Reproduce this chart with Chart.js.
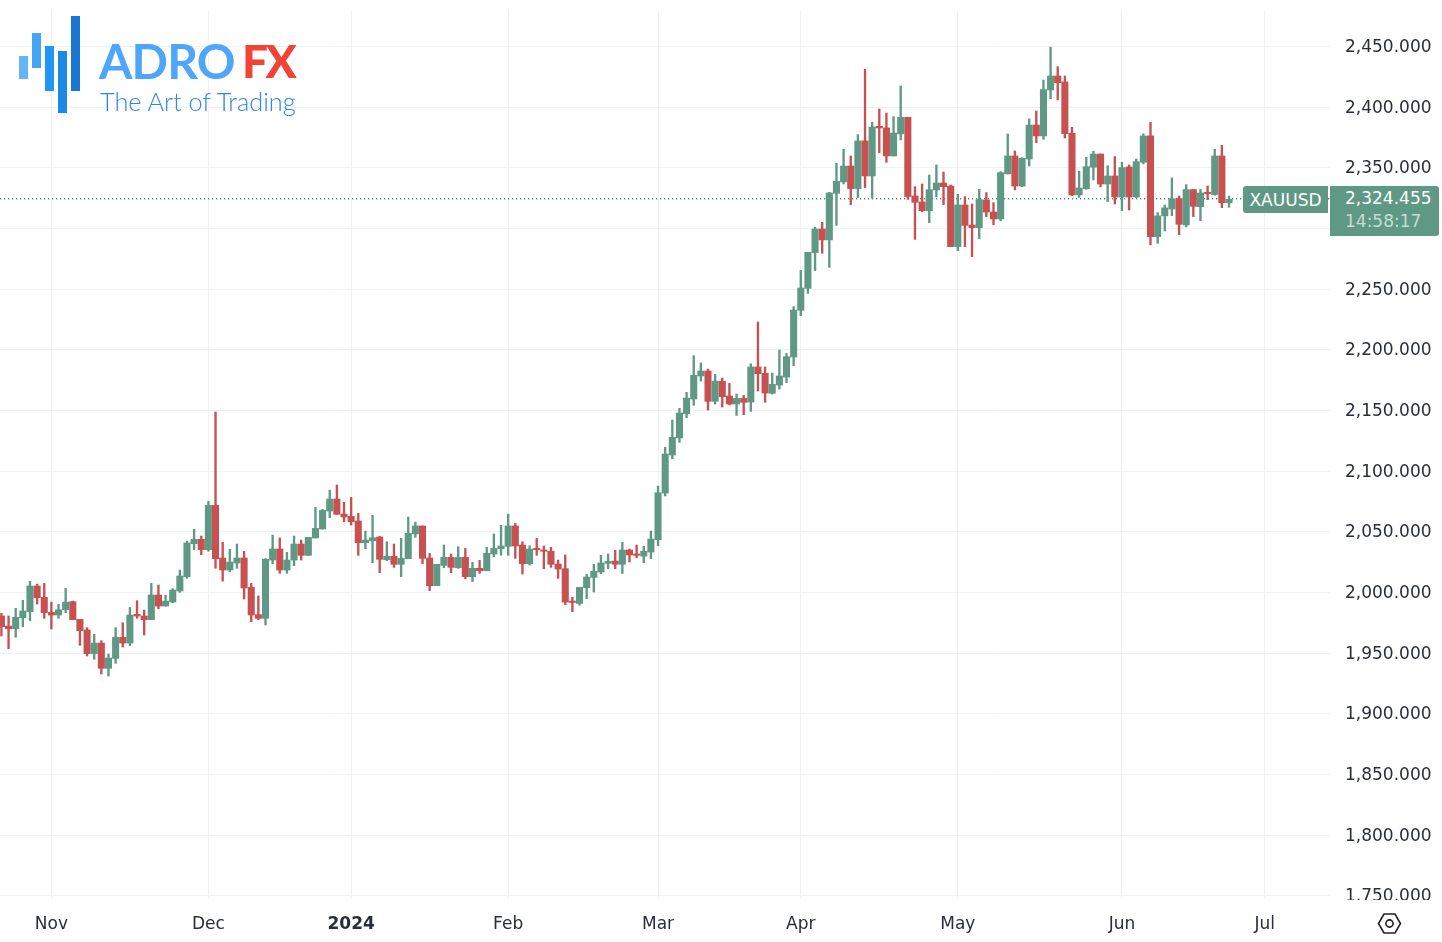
<!DOCTYPE html>
<html>
<head>
<meta charset="utf-8">
<title>XAUUSD</title>
<script src="https://cdn.jsdelivr.net/npm/chart.js@4"></script>
<style>
	html, body { margin: 0; padding: 0; background: #fff; overflow: hidden; }
	#wrap { position: relative; width: 1442px; height: 942px; font-family: "DejaVu Sans", sans-serif; }
	#wrap > * { position: absolute; }
	canvas { left: 0; top: 0; }
	.brand { font-family: Lato, sans-serif; white-space: nowrap; }
	#adro { left: 99px; top: 31px; font-size: 48px; line-height: 60px; font-weight: 700; letter-spacing: -0.8px; color: #4da6fb; }
	#fx { left: 242px; top: 31px; font-size: 46px; line-height: 60px; font-weight: 900; letter-spacing: -2.5px; color: #f44336; }
	#slogan { left: 100px; top: 86px; font-size: 25.3px; line-height: 30px; font-weight: 300; color: #2f86e4; }
	.tag { background: #5f9985; color: #fff; font-size: 17px; white-space: nowrap; }
	#tagName { left: 1243px; top: 186px; width: 85px; height: 27px; line-height: 28px; text-align: center; border-radius: 3px 0 0 3px; }
	#tagPrice { left: 1330px; top: 186px; width: 109px; height: 50px; border-radius: 0 3px 3px 0; }
	#tagPrice div { padding-left: 15px; height: 23px; line-height: 25px; }
	#tagPrice .timer { color: #c3ded4; }
</style>
</head>
<body>
<div id="wrap">
	<canvas id="goldChart" width="1442" height="942"></canvas>
	<svg style="left:0;top:0" width="90" height="120">
		<rect x="19" y="56" width="9" height="23" fill="#64b5f6"/>
		<rect x="32" y="33" width="9" height="35" fill="#42a5f5"/>
		<rect x="45" y="46" width="9" height="45" fill="#2196f3"/>
		<rect x="58" y="51" width="9" height="62" fill="#1e88e5"/>
		<rect x="71" y="16" width="9" height="75" fill="#1976d2"/>
	</svg>
	<div id="adro" class="brand">ADRO</div>
	<div id="fx" class="brand">FX</div>
	<div id="slogan" class="brand">The Art of Trading</div>
	<div id="tagName" class="tag">XAUUSD</div>
	<div id="tagPrice" class="tag"><div>2,324.455</div><div class="timer">14:58:17</div></div>
	<svg style="left:1377px;top:912px" width="25" height="23" viewBox="0 0 25 23">
		<path d="M1.5 11.5 L7 2 H18 L23.5 11.5 L18 21 H7 Z" fill="none" stroke="#222" stroke-width="1.6"/>
		<circle cx="12.5" cy="11.5" r="3.6" fill="none" stroke="#222" stroke-width="1.6"/>
	</svg>
</div>
<script>
// bar numbers count trading days from the start of November, first visible bar is -7
const firstBar = -7;
const lastPrice = 2324.455;

const opens = [
	1980.7,1972.4,1970.2,1979.3,1984.3,2005.4,1996.1,1983.7,1981.5,1985.9,
	1992.5,1977.9,1969.2,1949.7,1958.4,1937.6,1945.8,1963.1,1958.4,1982,
	1980.7,1977.7,1998,1988.9,1992.2,2001.3,2013.1,2040.3,2043.9,2035.4,
	2071.9,2028.5,2018.6,2024.4,2028.5,2004.3,1981.8,1978.8,2026.8,2035.9,
	2018.6,2026.8,2040,2030.7,2045,2052.4,2067.2,2077.1,2064.7,2062.8,
	2059,2041.1,2042.8,2045.8,2027.1,2029.9,2023.3,2027.9,2048.3,2054.9,
	2028.5,2005.7,2022.4,2029,2020.5,2029,2013.1,2020,2018,2031.8,
	2036.2,2038.1,2054.9,2039.2,2023.8,2036.4,2035.1,2034,2023.5,2019.7,
	1993,1991.1,2004,2012.5,2016.9,2024.1,2026,2023.3,2035.1,2031.8,
	2030.1,2033.4,2043.6,2082,2113.4,2127.4,2147.4,2159.5,2178.5,2182.6,
	2157.6,2174.1,2162,2155.4,2160,2157,2185.9,2180.7,2164.2,2171,
	2177.6,2194.1,2232.6,2250.7,2280.1,2299.6,2290.6,2329,2338.4,2351.5,
	2332.9,2372.2,2343.3,2384.2,2382.9,2359.8,2378,2391.6,2326.8,2321.9,
	2314.7,2331.8,2337.5,2335,2285.1,2319.4,2302.9,2300.7,2323.5,2313.6,
	2307.9,2345,2359.8,2335,2357.3,2385.3,2376.3,2414.2,2425.7,2420.8,
	2378.5,2327.7,2332.9,2350.5,2361.4,2336.7,2343.3,2326,2350.7,2326,
	2354.6,2376.3,2293.3,2310.4,2316.1,2324.6,2302.9,2332.1,2318,2329.9,
	2328,2359.8,2321.3
];
const highs = [
	1982.9,1980.7,1987,1993.6,2009.3,2007,2007.6,1992.2,1990.3,2003.5,
	1993,1977.9,1971.1,1965.6,1960.4,1949.4,1971.1,1975.2,1987.8,1993.3,
	1985.6,2007.6,2006.2,1997.7,2003.2,2018.6,2042.5,2052.1,2046.6,2075.2,
	2148.8,2041.4,2035.6,2040,2034,2007.6,1997.2,2028,2047.4,2045,
	2033.2,2046.6,2043.3,2045.5,2070.2,2068.6,2084.5,2088.7,2074.4,2078.5,
	2065.3,2050.7,2063.6,2046.3,2041.9,2040,2044.7,2062.3,2058.1,2054.9,
	2032.3,2023.3,2039.2,2031.8,2037.8,2036.4,2024.9,2026.6,2037.3,2048.3,
	2055.4,2064.7,2057,2041.9,2038.6,2044.7,2038.4,2037.3,2026.8,2031,
	1996.1,2004.3,2015,2023.3,2030.7,2031.8,2034.8,2041.4,2035.9,2039.2,
	2038.1,2050.7,2087.8,2119.7,2142.2,2151.8,2165,2195.2,2189.2,2184.2,
	2179.8,2176.8,2172.4,2163.6,2162.5,2188.6,2223,2185.9,2180.9,2199.9,
	2197.1,2235.6,2265.5,2280.4,2301,2305.1,2329.8,2353.7,2365.3,2359.8,
	2377.4,2431.2,2387.5,2398.5,2395.2,2392.2,2417.5,2391.6,2334.5,2336.7,
	2344.1,2352.4,2346.6,2335.9,2328.2,2326.3,2320.2,2332.3,2329.6,2321.3,
	2346.9,2377.9,2363.9,2358.4,2390.3,2396.9,2422.4,2449.4,2433.4,2425.7,
	2383.4,2347.2,2358.7,2363.7,2361.4,2351.8,2359.3,2354.6,2352.4,2357.3,
	2378,2387.5,2313.1,2319.4,2341.7,2326.8,2336.2,2332.1,2332.3,2335.1,
	2365.3,2368.6,2326.8
];
const lows = [
	1964.2,1953.8,1963.1,1971.9,1976.8,1990.6,1978.8,1970,1978.8,1983.4,
	1977.7,1956.5,1947.7,1945,1932.9,1931.2,1941.7,1955.1,1956.2,1978.8,
	1965,1977.7,1986.7,1988.9,1991.7,2000.2,2011.7,2035.4,2031.2,2034,
	2020,2009.5,2017.2,2020,1994.7,1976,1977.7,1973.3,2023.8,2015.9,
	2015.9,2022.2,2026.8,2030.7,2045,2052.4,2061.7,2064.5,2058.4,2055.7,
	2030.7,2036.2,2024.6,2016.4,2026.3,2020.8,2013.1,2027.9,2045.5,2023.8,
	2001.6,2005.7,2020.5,2016.4,2020,2011.4,2009,2015.8,2018,2029.6,
	2030.7,2030.7,2028.2,2015.3,2022.7,2030.7,2019.7,2020.8,2011.7,1990,
	1984.3,1989.7,1995,2000.5,2015.6,2019.7,2019.7,2015.8,2025.2,2028.8,
	2024.6,2027.9,2038.6,2079.6,2110.3,2123.8,2144.1,2154.3,2174.3,2150.4,
	2155.4,2152.9,2154.6,2146,2146.6,2149.3,2166.1,2156.8,2163.6,2167.7,
	2173,2187,2228.2,2246.6,2265.3,2279.6,2268,2302.6,2336.7,2319.7,
	2325.4,2333.7,2324.9,2362.5,2354.6,2359.8,2373,2324.1,2291.1,2313.9,
	2304.8,2326,2319.7,2285.1,2281.8,2285.1,2276.8,2291.7,2309.8,2303.2,
	2306.5,2345,2331.8,2334.5,2351.5,2370.8,2373.5,2407,2406,2374.6,
	2327.1,2325.7,2332.3,2340,2334.3,2322.2,2320.2,2314.8,2315.3,2325.5,
	2353.2,2286.5,2287.8,2298,2310.6,2295,2301.3,2309.8,2306.5,2323.8,
	2327.4,2317.2,2317.5
];
const closes = [
	1971.9,1970.2,1979.6,1984.8,2005.4,1995.8,1983.4,1981.5,1985.9,1992.2,
	1977.7,1968.6,1949.7,1958.4,1937.6,1946.1,1963.1,1958.4,1981.5,1980.7,
	1977.7,1998,1988.9,1993,2002.1,2013.7,2040.9,2043.9,2035.4,2071.9,
	2027.9,2018.6,2025.2,2028.5,2003.8,1981.5,1978.8,2027.4,2035.9,2018.6,
	2026.8,2040,2030.7,2045.5,2052.9,2067.8,2077.1,2064.5,2062.3,2058.4,
	2041.1,2043.3,2045.2,2027.4,2029.9,2023.3,2028.2,2048.8,2054.9,2028.2,
	2005.7,2023.3,2029,2020.8,2029,2013.1,2020,2018,2032.3,2036.4,
	2038.4,2054.9,2038.4,2023.8,2035.9,2035.3,2034,2023.3,2019.4,1992.2,
	1991.9,2004.3,2012.8,2017.5,2024.4,2025.7,2023.3,2035.1,2031,2030.7,
	2034,2044.1,2082.3,2114.2,2127.9,2148,2160.3,2179,2182.6,2157.6,
	2174.3,2161.4,2155.4,2160,2156.8,2185.9,2180.4,2164.4,2171.6,2178.5,
	2194.4,2232.8,2251,2280.4,2299.6,2290.6,2329.3,2338.9,2351.5,2332.9,
	2372.2,2343.3,2383.7,2382.9,2359.8,2378.7,2391.6,2326.3,2321.6,2314.7,
	2332,2337.5,2334.5,2285.1,2319.4,2302.6,2300.7,2323.8,2313.6,2307.9,
	2346.1,2359.8,2335,2357.9,2385.3,2376.3,2414.5,2425.7,2420.2,2378.2,
	2327.7,2333.4,2351,2361.4,2336.7,2343.3,2326,2350.2,2326,2355.1,
	2376.3,2293.3,2310.4,2317,2324.6,2303.5,2332.1,2318.3,2329.3,2328.8,
	2359.8,2321.3,2324.1
];

const monthLabels = ['Nov', 'Dec', '2024', 'Feb', 'Mar', 'Apr', 'May', 'Jun', 'Jul'];
const monthBars = [0, 22, 42, 64, 85, 105, 127, 150, 170];
const priceTicks = [1750, 1800, 1850, 1900, 1950, 2000, 2050, 2100, 2150, 2200, 2250, 2300, 2350, 2400, 2450];

const upColor = '#5f9985',
	downColor = '#c75050',
	gridColor = '#f0f1f3',
	textColor = '#2a2e39';

const xMin = -7.2, xMax = 179.15;

const barNumbers = opens.map((o, i) => firstBar + i);
const barColors = opens.map((o, i) => closes[i] >= o ? upColor : downColor);

// no label overhang, the plot area runs to the canvas edge
const noMargins = (scale) => {
	scale.paddingTop = scale.paddingBottom = scale.paddingLeft = scale.paddingRight = 0;
};

// the last y label is cut by the time axis in the original
const cutAxisLabel = {
	id : 'cutAxisLabel',
	afterDraw(chart) {
		chart.ctx.save();
		chart.ctx.fillStyle = '#fff';
		chart.ctx.fillRect(chart.chartArea.right + 1, chart.chartArea.bottom + 1, 112, 43);
		chart.ctx.restore();
	}
};

let goldChart = new Chart(document.getElementById('goldChart').getContext('2d'), {
	type : 'bar',
	data : {
		datasets : [
			{
				type        : 'line',
				data        : [{ x : xMin, y : lastPrice }, { x : xMax, y : lastPrice }],
				borderColor : '#4d8d78',
				borderWidth : 1.5,
				borderDash  : [1.2, 2.8],
				pointRadius : 0,
				order       : 3
			},
			{
				data            : barNumbers.map((x, i) => ({ x : x, y : [lows[i], highs[i]] })),
				backgroundColor : barColors,
				barThickness    : 1.7,
				grouped         : false,
				order           : 2
			},
			{
				data            : barNumbers.map((x, i) => ({ x : x, y : [opens[i], closes[i]] })),
				backgroundColor : barColors,
				barThickness    : 6.4,
				grouped         : false,
				order           : 1
			}
		]
	},
	options : {
		responsive : false,
		animation  : false,
		layout     : { padding : { top : 11 } },
		plugins    : { legend : { display : false }, tooltip : { enabled : false } },
		scales     : {
			x : {
				type   : 'linear',
				offset : false,
				min    : xMin,
				max    : xMax,
				border : { display : false },
				grid   : { color : gridColor, drawTicks : false, offset : false },
				ticks  : {
					autoSkip    : false,
					maxRotation : 0,
					padding     : 15,
					color       : textColor,
					font        : (ctx) => ({
						family : 'DejaVu Sans',
						size   : 17,
						weight : ctx.tick && ctx.tick.value === 42 ? 'bold' : 'normal'
					}),
					callback    : (value) => monthLabels[monthBars.indexOf(value)]
				},
				afterBuildTicks : (scale) => { scale.ticks = monthBars.map((value) => ({ value : value })); },
				afterFit        : (scale) => { scale.height = 43; noMargins(scale); }
			},
			y : {
				position : 'right',
				min      : 1747.5,
				max      : 2479.25,
				border   : { display : false },
				grid     : { color : gridColor, drawTicks : false },
				ticks    : {
					padding     : 15,
					labelOffset : 1,
					color       : textColor,
					font        : { family : 'DejaVu Sans', size : 17 },
					callback    : (value) => value.toLocaleString('en-US', { minimumFractionDigits : 3 })
				},
				afterBuildTicks : (scale) => { scale.ticks = priceTicks.map((value) => ({ value : value })); },
				afterFit        : (scale) => { scale.width = 112; noMargins(scale); }
			}
		}
	},
	plugins : [cutAxisLabel]
});
</script>
</body>
</html>
